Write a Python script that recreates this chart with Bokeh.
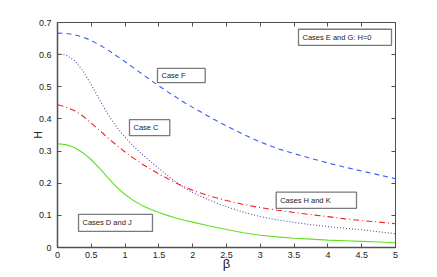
from bokeh.plotting import figure
from bokeh.models import LinearAxis, FixedTicker, Range1d, ColumnDataSource, CustomJSTickFormatter
from bokeh.core.properties import value
from bokeh.embed import file_html
from bokeh.resources import INLINE

beta = [0.0, 0.125, 0.25, 0.375, 0.5, 0.625, 0.75, 0.875, 1.0, 1.125, 1.25, 1.375, 1.5,
        1.625, 1.75, 1.875, 2.0, 2.25, 2.5, 2.75, 3.0, 3.25, 3.5, 3.75, 4.0, 4.25, 4.5, 4.75, 5.0]
h_case_f = [0.667, 0.666, 0.662, 0.655, 0.644, 0.630, 0.614, 0.596, 0.578, 0.559, 0.540, 0.521, 0.503,
            0.485, 0.468, 0.451, 0.436, 0.406, 0.378, 0.352, 0.328, 0.308, 0.292, 0.277, 0.263,
            0.250, 0.238, 0.226, 0.214]
h_case_c = [0.603, 0.599, 0.582, 0.550, 0.506, 0.459, 0.413, 0.375, 0.343, 0.315, 0.290, 0.268, 0.246,
            0.224, 0.204, 0.186, 0.171, 0.147, 0.127, 0.110, 0.096, 0.086, 0.078, 0.071, 0.065,
            0.060, 0.055, 0.049, 0.043]
h_case_hk = [0.444, 0.437, 0.426, 0.409, 0.387, 0.364, 0.340, 0.318, 0.297, 0.278, 0.260, 0.244, 0.229,
             0.215, 0.201, 0.189, 0.178, 0.160, 0.146, 0.134, 0.124, 0.116, 0.109, 0.102, 0.096,
             0.089, 0.084, 0.079, 0.074]
h_case_dj = [0.323, 0.320, 0.311, 0.295, 0.273, 0.246, 0.216, 0.188, 0.165, 0.146, 0.131, 0.119, 0.109,
             0.100, 0.092, 0.085, 0.079, 0.067, 0.056, 0.046, 0.038, 0.033, 0.029, 0.026, 0.023,
             0.021, 0.019, 0.017, 0.015]

x_ticks = [0, 0.5, 1, 1.5, 2, 2.5, 3, 3.5, 4, 4.5, 5]
y_ticks = [0, 0.1, 0.2, 0.3, 0.4, 0.5, 0.6, 0.7]

# annotation boxes (label, left, right, bottom, top in data units)
box_labels = ["Case F", "Case C", "Cases E and G: H=0", "Cases H and K", "Cases D and J"]
box_left = [1.479, 1.065, 3.565, 3.235, 0.311]
box_right = [2.185, 1.661, 4.941, 4.423, 1.405]
box_bottom = [0.513, 0.348, 0.629, 0.122, 0.050]
box_top = [0.557, 0.398, 0.679, 0.172, 0.103]

FONT = "Liberation Sans"
AX = "#505050"

p = figure(width=437, height=277, output_backend="svg", toolbar_location=None,
           x_range=Range1d(0, 5), y_range=Range1d(0, 0.7),
           min_border_left=57, min_border_right=42, min_border_top=22, min_border_bottom=30,
           x_axis_label="β", y_axis_label="H")
p.grid.visible = False
p.outline_line_color = AX
p.outline_line_width = 1
p.background_fill_color = "white"
p.border_fill_color = "white"

for ax in p.xaxis:
    ax.ticker = FixedTicker(ticks=x_ticks)
    ax.axis_label_standoff = -5
    ax.major_label_standoff = 4
for ax in p.yaxis:
    ax.ticker = FixedTicker(ticks=y_ticks)
    ax.axis_label_standoff = -8
    ax.major_label_standoff = 6

for ax in list(p.xaxis) + list(p.yaxis):
    ax.major_tick_in = 4
    ax.major_tick_out = 0
    ax.minor_tick_in = 0
    ax.minor_tick_out = 0
    ax.axis_line_color = AX
    ax.axis_line_width = 1.5
    ax.major_tick_line_color = AX
    ax.major_label_text_font = FONT
    ax.major_label_text_font_size = "9px"
    ax.major_label_text_color = "#222222"
    ax.axis_label_text_font = FONT
    ax.axis_label_text_font_style = "normal"
    ax.axis_label_text_color = "#222222"

p.xaxis.axis_label_text_font_size = "13px"
p.yaxis.axis_label_text_font_size = "10px"

blank = CustomJSTickFormatter(code="return ''")
top_axis = LinearAxis(ticker=FixedTicker(ticks=x_ticks), formatter=blank,
                      major_tick_in=4, major_tick_out=0, minor_tick_in=0, minor_tick_out=0,
                      axis_line_color=AX, major_tick_line_color=AX, major_label_standoff=0)
right_axis = LinearAxis(ticker=FixedTicker(ticks=y_ticks), formatter=blank,
                        major_tick_in=4, major_tick_out=0, minor_tick_in=0, minor_tick_out=0,
                        axis_line_color=AX, major_tick_line_color=AX, major_label_standoff=0)
p.add_layout(top_axis, "above")
p.add_layout(right_axis, "right")

src = ColumnDataSource(dict(beta=beta, f=h_case_f, c=h_case_c, hk=h_case_hk, dj=h_case_dj))
p.line("beta", "f", source=src, line_color="#3a5cf5", line_width=1.1, line_dash="5 4")
p.line("beta", "c", source=src, line_color="#5a4b9e", line_width=1.1, line_dash="1 2")
p.line("beta", "hk", source=src, line_color="#f02020", line_width=1.1, line_dash="6 3 1 3")
p.line("beta", "dj", source=src, line_color="#5fe020", line_width=1.1)

bsrc = ColumnDataSource(dict(label=box_labels, left=box_left, right=box_right,
                             bottom=box_bottom, top=box_top,
                             ymid=[(b + t) / 2 for b, t in zip(box_bottom, box_top)]))
p.quad(left="left", right="right", bottom="bottom", top="top", source=bsrc,
       fill_color="white", line_color="#7a7a7a", line_width=1.3)
p.text(x="left", y="ymid", text="label", source=bsrc, x_offset=4,
       text_font=value(FONT), text_font_size="7.5px", text_baseline="middle",
       text_align="left", text_color="#222222")

open("out.html", "w").write(file_html(p, INLINE))
